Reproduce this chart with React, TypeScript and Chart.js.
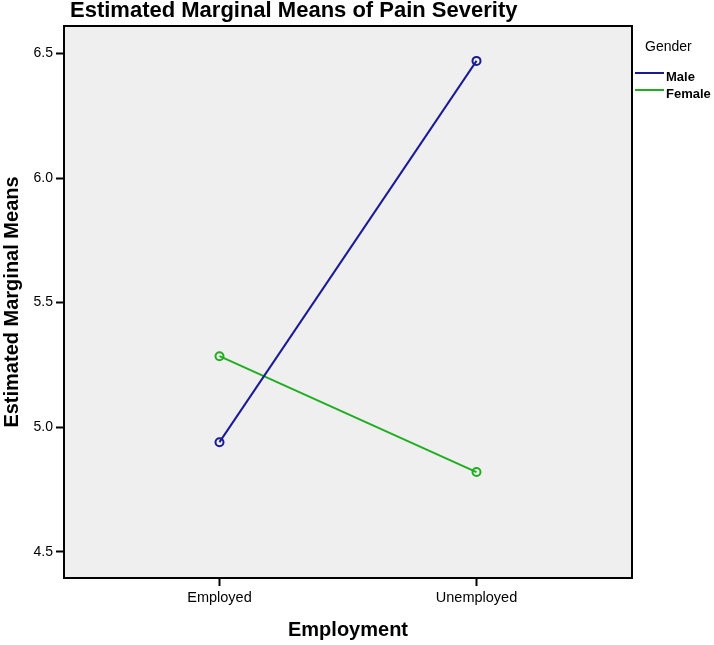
import React, { useEffect, useRef } from "react";
import { Chart, registerables } from "chart.js";

Chart.register(...registerables);

const categories = ["Employed", "Unemployed"];
const maleMeans = [4.94, 6.47];
const femaleMeans = [5.285, 4.82];
const yTicks = [4.5, 5.0, 5.5, 6.0, 6.5];
const seriesNames = ["Male", "Female"];
const seriesColors = ["#1a1a96", "#1fae1f"];
const chartTitle = "Estimated Marginal Means of Pain Severity";
const yTitle = "Estimated Marginal Means";
const xTitle = "Employment";
const legendTitle = "Gender";

const FONT = "'Liberation Sans', Arial, sans-serif";

const framePlugin = {
  id: "frame",
  beforeDatasetsDraw(chart: any) {
    const { ctx, chartArea: a } = chart;
    ctx.save();
    ctx.fillStyle = "#efefef";
    ctx.fillRect(a.left, a.top, a.right - a.left, a.bottom - a.top);
    ctx.restore();
  },
  afterDraw(chart: any) {
    const { ctx, chartArea: a } = chart;
    ctx.save();
    ctx.strokeStyle = "#000";
    ctx.lineWidth = 2;
    ctx.strokeRect(a.left, a.top, a.right - a.left, a.bottom - a.top);
    // title
    ctx.fillStyle = "#000";
    ctx.font = `bold 22px ${FONT}`;
    ctx.textAlign = "left";
    ctx.textBaseline = "alphabetic";
    ctx.fillText(chartTitle, 70, 17);
    // legend
    ctx.font = `14px ${FONT}`;
    ctx.fillText(legendTitle, 645, 51);
    ctx.font = `bold 13px ${FONT}`;
    seriesNames.forEach((name, i) => {
      const y = 73 + i * 17;
      ctx.strokeStyle = seriesColors[i];
      ctx.lineWidth = 2;
      ctx.beginPath();
      ctx.moveTo(635, y);
      ctx.lineTo(664, y);
      ctx.stroke();
      ctx.fillStyle = "#000";
      ctx.textBaseline = "middle";
      ctx.fillText(name, 666, y + 4);
    });
    ctx.restore();
  },
};

export default function App() {
  const ref = useRef<HTMLCanvasElement | null>(null);
  useEffect(() => {
    if (!ref.current) return;
    const mk = (vals: number[]) => vals.map((v, i) => ({ x: i, y: v }));
    const chart = new Chart(ref.current, {
      type: "line",
      data: {
        datasets: [
          { label: seriesNames[0], data: mk(maleMeans) },
          { label: seriesNames[1], data: mk(femaleMeans) },
        ].map((d, i) => ({
          ...d,
          borderColor: seriesColors[i],
          backgroundColor: "rgba(0,0,0,0)",
          pointBorderColor: seriesColors[i],
          pointBackgroundColor: "rgba(0,0,0,0)",
          pointRadius: 4,
          pointBorderWidth: 2,
          borderWidth: 2,
          tension: 0,
        })),
      },
      options: {
        animation: false,
        responsive: false,
        layout: { padding: { left: 0, top: 26, right: 82, bottom: 0 } },
        plugins: { legend: { display: false }, title: { display: false }, tooltip: { enabled: false } },
        scales: {
          x: {
            type: "linear",
            min: -0.605,
            max: 1.605,
            afterBuildTicks: (s: any) => {
              s.ticks = categories.map((_, i) => ({ value: i }));
            },
            afterFit: (s: any) => {
              s.height = 67;
            },
            ticks: {
              callback: (v: any) => categories[Number(v)] ?? "",
              color: "#000",
              font: { family: FONT, size: 14.5 },
              padding: 3,
              maxRotation: 0,
            },
            grid: { drawOnChartArea: false, drawTicks: true, tickLength: 8, tickColor: "#000", tickWidth: 2 },
            border: { display: true, color: "#000", width: 2 },
            title: {
              display: true,
              text: xTitle,
              color: "#000",
              font: { family: FONT, size: 20, weight: "bold" },
              padding: { top: 0, bottom: 3 },
            },
          },
          y: {
            type: "linear",
            min: 4.395,
            max: 6.61,
            afterBuildTicks: (s: any) => {
              s.ticks = yTicks.map((v) => ({ value: v }));
            },
            afterFit: (s: any) => {
              s.width = 64;
            },
            ticks: {
              callback: (v: any) => Number(v).toFixed(1),
              color: "#000",
              font: { family: FONT, size: 14 },
              padding: 3,
            },
            grid: { drawOnChartArea: false, drawTicks: true, tickLength: 8, tickColor: "#000", tickWidth: 2 },
            border: { display: true, color: "#000", width: 2 },
            title: {
              display: true,
              text: yTitle,
              color: "#000",
              font: { family: FONT, size: 20, weight: "bold" },
              padding: { top: 0, bottom: 0 },
            },
          },
        },
      },
      plugins: [framePlugin],
    });
    return () => chart.destroy();
  }, []);
  return (
    <div style={{ position: "fixed", left: 0, top: 0, width: 714, height: 645, background: "#fff" }}>
      <canvas ref={ref} width={714} height={645} />
    </div>
  );
}
